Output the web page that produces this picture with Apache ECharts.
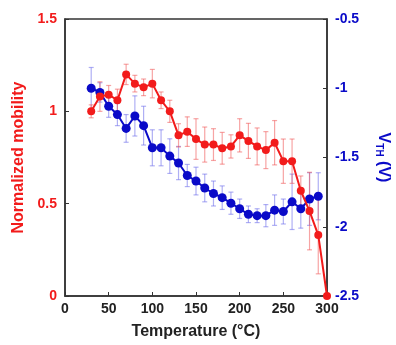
<!DOCTYPE html>
<html>
<head>
<meta charset="utf-8">
<script src="https://cdn.jsdelivr.net/npm/echarts@6/dist/echarts.min.js"></script>
<style>html,body{margin:0;padding:0;background:#fff;}#c{width:396px;height:345px;}</style>
</head>
<body>
<div id="c"></div>
<script>
var temps = [30,40,50,60,70,80,90,100,110,120,130,140,150,160,170,180,190,200,210,220,230,240,250,260,270,280,290,300];
var mobility = [1.00,1.08,1.09,1.06,1.20,1.15,1.13,1.15,1.06,1.00,0.87,0.89,0.85,0.82,0.82,0.80,0.81,0.87,0.84,0.81,0.79,0.83,0.73,0.73,0.57,0.46,0.33,0.00];
var mobilityErr = [0.035,0.08,0.05,0.06,0.055,0.045,0.045,0.077,0.045,0.06,0.063,0.08,0.11,0.095,0.086,0.086,0.063,0.09,0.095,0.10,0.10,0.12,0.12,0.12,0.08,0.21,0.21,0.0];
var vthTemps = [30,40,50,60,70,80,90,100,110,120,130,140,150,160,170,180,190,200,210,220,230,240,250,260,270,280,290];
var vth = [-1.00,-1.03,-1.13,-1.19,-1.29,-1.20,-1.27,-1.43,-1.43,-1.49,-1.54,-1.63,-1.67,-1.72,-1.76,-1.79,-1.83,-1.87,-1.91,-1.92,-1.92,-1.88,-1.89,-1.82,-1.87,-1.80,-1.78];
var vthErr = [0.15,0.07,0.08,0.08,0.10,0.145,0.14,0.13,0.13,0.125,0.12,0.08,0.10,0.10,0.09,0.085,0.08,0.07,0.06,0.05,0.08,0.11,0.09,0.20,0.14,0.19,0.17];
var xTicks = [0,50,100,150,200,250,300];

var RED = '#f21b1b', BLUE = '#0a0ac8';

function errData(xs, ys, es) {
  return xs.map(function (x, i) { return [x, ys[i] - es[i], ys[i] + es[i]]; });
}
function errRender(color) {
  return function (params, api) {
    var lo = api.coord([api.value(0), api.value(1)]);
    var hi = api.coord([api.value(0), api.value(2)]);
    var w = 2.5;
    var st = { stroke: color, lineWidth: 1.2 };
    return { type: 'group', children: [
      { type: 'line', shape: { x1: lo[0], y1: lo[1], x2: hi[0], y2: hi[1] }, style: st },
      { type: 'line', shape: { x1: lo[0] - w, y1: lo[1], x2: lo[0] + w, y2: lo[1] }, style: st },
      { type: 'line', shape: { x1: hi[0] - w, y1: hi[1], x2: hi[0] + w, y2: hi[1] }, style: st }
    ]};
  };
}

var chart = echarts.init(document.getElementById('c'), null, { renderer: 'canvas' });
var axisLine = { lineStyle: { color: '#333', width: 1.5 } };
var font = 'Liberation Sans';
chart.setOption({
  animation: false,
  backgroundColor: '#fff',
  grid: { left: 65, right: 69, top: 19, bottom: 49, containLabel: false, outerBoundsMode: 'none', show: true, borderColor: '#333', borderWidth: 1.5, backgroundColor: 'transparent' },
  xAxis: {
    type: 'value', min: 0, max: 300, interval: 50,
    name: 'Temperature (°C)', nameLocation: 'middle', nameGap: 28,
    nameTextStyle: { fontFamily: font, fontWeight: 'bold', fontSize: 16, color: '#222' },
    axisLine: axisLine,
    axisTick: { inside: true, length: 4, lineStyle: { color: '#333' } },
    axisLabel: { fontFamily: font, fontWeight: 'bold', fontSize: 14, color: '#222', margin: 6 },
    splitLine: { show: false }
  },
  yAxis: [{
    type: 'value', min: 0, max: 1.5, interval: 0.5, position: 'left',
    name: 'Normalized mobility', nameLocation: 'middle', nameGap: 38, nameRotate: 90,
    nameTextStyle: { fontFamily: font, fontWeight: 'bold', fontSize: 16, color: RED },
    axisLine: axisLine,
    axisTick: { inside: true, length: 4, lineStyle: { color: '#333' } },
    axisLabel: { fontFamily: font, fontWeight: 'bold', fontSize: 14, color: RED, margin: 8 },
    splitLine: { show: false }
  }, {
    type: 'value', min: -2.5, max: -0.5, interval: 0.5, position: 'right',
    name: '{v|V}{s|TH}{v| (V)}', nameLocation: 'middle', nameGap: 47, nameRotate: -90,
    nameTextStyle: { fontFamily: font, fontWeight: 'bold', fontSize: 16, color: BLUE,
      rich: { v: { fontFamily: font, fontWeight: 'bold', fontSize: 16, color: BLUE },
              s: { fontFamily: font, fontWeight: 'bold', fontSize: 10, color: BLUE, verticalAlign: 'bottom', padding: [8, 0, 0, 0] } } },
    axisLine: axisLine,
    axisTick: { inside: true, length: 4, lineStyle: { color: '#333' } },
    axisLabel: { fontFamily: font, fontWeight: 'bold', fontSize: 14, color: BLUE, margin: 8 },
    splitLine: { show: false }
  }],
  series: [
    { type: 'custom', yAxisIndex: 1, renderItem: errRender('rgba(110,110,235,0.55)'), data: errData(vthTemps, vth, vthErr), encode: { x: 0, y: [1, 2] }, z: 1 },
    { type: 'custom', yAxisIndex: 0, renderItem: errRender('rgba(240,90,90,0.55)'), data: errData(temps, mobility, mobilityErr), encode: { x: 0, y: [1, 2] }, z: 2 },
    { type: 'line', yAxisIndex: 1, data: vthTemps.map(function (t, i) { return [t, vth[i]]; }),
      symbol: 'circle', symbolSize: 9, itemStyle: { color: BLUE }, lineStyle: { color: BLUE, width: 2 }, z: 3 },
    { type: 'line', yAxisIndex: 0, data: temps.map(function (t, i) { return [t, mobility[i]]; }),
      symbol: 'circle', symbolSize: 8, itemStyle: { color: RED }, lineStyle: { color: RED, width: 2 }, z: 4, clip: false }
  ]
});
</script>
</body>
</html>
